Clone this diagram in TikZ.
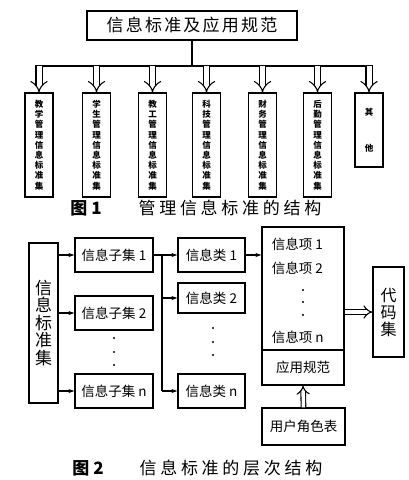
\documentclass[tikz,border=0pt]{standalone}
\usepackage{fontspec}
\setmainfont{Noto Sans CJK SC}
\usetikzlibrary{arrows.meta}
\begin{document}
\begin{tikzpicture}[x=1pt,y=-1pt,line width=1.1pt,
  box/.style={draw,inner sep=0pt,align=center},
  vbox/.style={box,minimum width=28pt,minimum height=104pt,font=\fontsize{8.5}{10.2}\selectfont\bfseries},
  sbox/.style={box,minimum height=34pt,font=\fontsize{13.5}{14}\selectfont},
  hollow/.style={double,double distance=5pt,-{Implies[length=7pt]}},
  hollowsmall/.style={double,double distance=3.5pt,-{Implies[length=5.5pt]}},
  arr/.style={-{Stealth[length=6pt,width=4pt]}},
  captext/.style={font=\fontsize{17}{17}\selectfont\addfontfeature{LetterSpace=22}},
  dot/.style={circle,fill,inner sep=0pt,minimum size=2.4pt}]
\useasboundingbox (0,0) rectangle (409,480);
% ---------- Figure 1 ----------
\node[box,minimum width=210pt,minimum height=29pt,font=\fontsize{17}{17}\selectfont\addfontfeature{LetterSpace=13}] (top) at (192,25.5) {信息标准及应用规范};
\coordinate (stem) at (192,66);
\coordinate (barL) at (35,66);
\coordinate (barR) at (373,66);
\draw (top.south) -- (stem);
\draw (barL) -- (barR);
\node[vbox] (b1) at (39,145) {教\\学\\管\\理\\信\\息\\标\\准\\集};
\node[vbox] (b2) at (96.5,145) {学\\生\\管\\理\\信\\息\\标\\准\\集};
\node[vbox] (b3) at (152.5,145) {教\\工\\管\\理\\信\\息\\标\\准\\集};
\node[vbox] (b4) at (206.5,145) {科\\技\\管\\理\\信\\息\\标\\准\\集};
\node[vbox] (b5) at (262.5,145) {财\\务\\管\\理\\信\\息\\标\\准\\集};
\node[vbox] (b6) at (317.5,145) {后\\勤\\管\\理\\信\\息\\标\\准\\集};
\node[vbox,minimum height=74pt] (b7) at (369,130) {其\\[26pt]他};
\foreach \b in {b1,b2,b3,b4,b5,b6,b7}
  \draw[hollow] (\b.north |- barL) -- (\b.north);
\node[font=\fontsize{17}{17}\selectfont\bfseries] (c1a) at (86,208) {图 1};
\node[captext] (c1b) at (230,208) {管理信息标准的结构};
% ---------- Figure 2 ----------
\node[box,minimum width=29pt,minimum height=160pt,font=\fontsize{17}{17.5}\selectfont] (main) at (43.5,323) {信\\息\\标\\准\\集};
\node[sbox,minimum width=78pt] (s1) at (114,255) {信息子集 1};
\node[sbox,minimum width=78pt] (s2) at (114,313) {信息子集 2};
\node[sbox,minimum width=78pt] (sn) at (114,391) {信息子集 n};
\foreach \s in {s1,s2,sn}
  \draw[arr] (main.east |- \s.west) -- (\s.west);
\node[dot] (d1) at (114,338) {};
\node[dot] (d2) at (114,352) {};
\node[dot] (d3) at (114,365) {};
\node[sbox,minimum width=67pt] (k1) at (211.5,255) {信息类 1};
\node[sbox,minimum width=67pt,minimum height=30pt] (k2) at (211.5,298) {信息类 2};
\node[sbox,minimum width=67pt] (kn) at (211.5,391) {信息类 n};
\coordinate (j1) at (162,255);
\coordinate (jn) at (162,391);
\draw (s1.east) -- (j1) -- (jn);
\foreach \k in {k1,k2,kn}
  \draw[arr] (j1 |- \k.west) -- (\k.west);
\node[dot] (e1) at (213,328) {};
\node[dot] (e2) at (213,342) {};
\node[dot] (e3) at (213,355) {};
\node[box,minimum width=82pt,minimum height=123pt] (items) at (303,288.5) {};
\node[box,minimum width=82pt,minimum height=35pt,font=\fontsize{13.5}{14}\selectfont] (spec) at (303,367.5) {应用规范};
\draw[arr] (k1.east) -- (items.west |- k1.east);
\node[anchor=west,font=\fontsize{13.5}{14}\selectfont] (i1) at (268,244) {信息项 1};
\node[anchor=west,font=\fontsize{13.5}{14}\selectfont] (i2) at (268,268) {信息项 2};
\node[dot] (f1) at (303,290) {};
\node[dot] (f2) at (303,302) {};
\node[dot] (f3) at (303,315) {};
\node[anchor=west,font=\fontsize{13.5}{14}\selectfont] (in) at (268,337) {信息项 n};
\node[box,minimum width=31pt,minimum height=90pt,font=\fontsize{16}{17}\selectfont] (code) at (388.5,312) {代\\码\\集};
\draw[hollowsmall] (items.east |- code.west) -- (code.west);
\node[box,minimum width=83pt,minimum height=37pt,font=\fontsize{13.5}{14}\selectfont] (user) at (303.5,426.5) {用户角色表};
\draw[hollowsmall] (user.north) -- (spec.south);
\node[font=\fontsize{17}{17}\selectfont\bfseries] (c2a) at (88,468) {图 2};
\node[captext] (c2b) at (231,468) {信息标准的层次结构};
\end{tikzpicture}
\end{document}
